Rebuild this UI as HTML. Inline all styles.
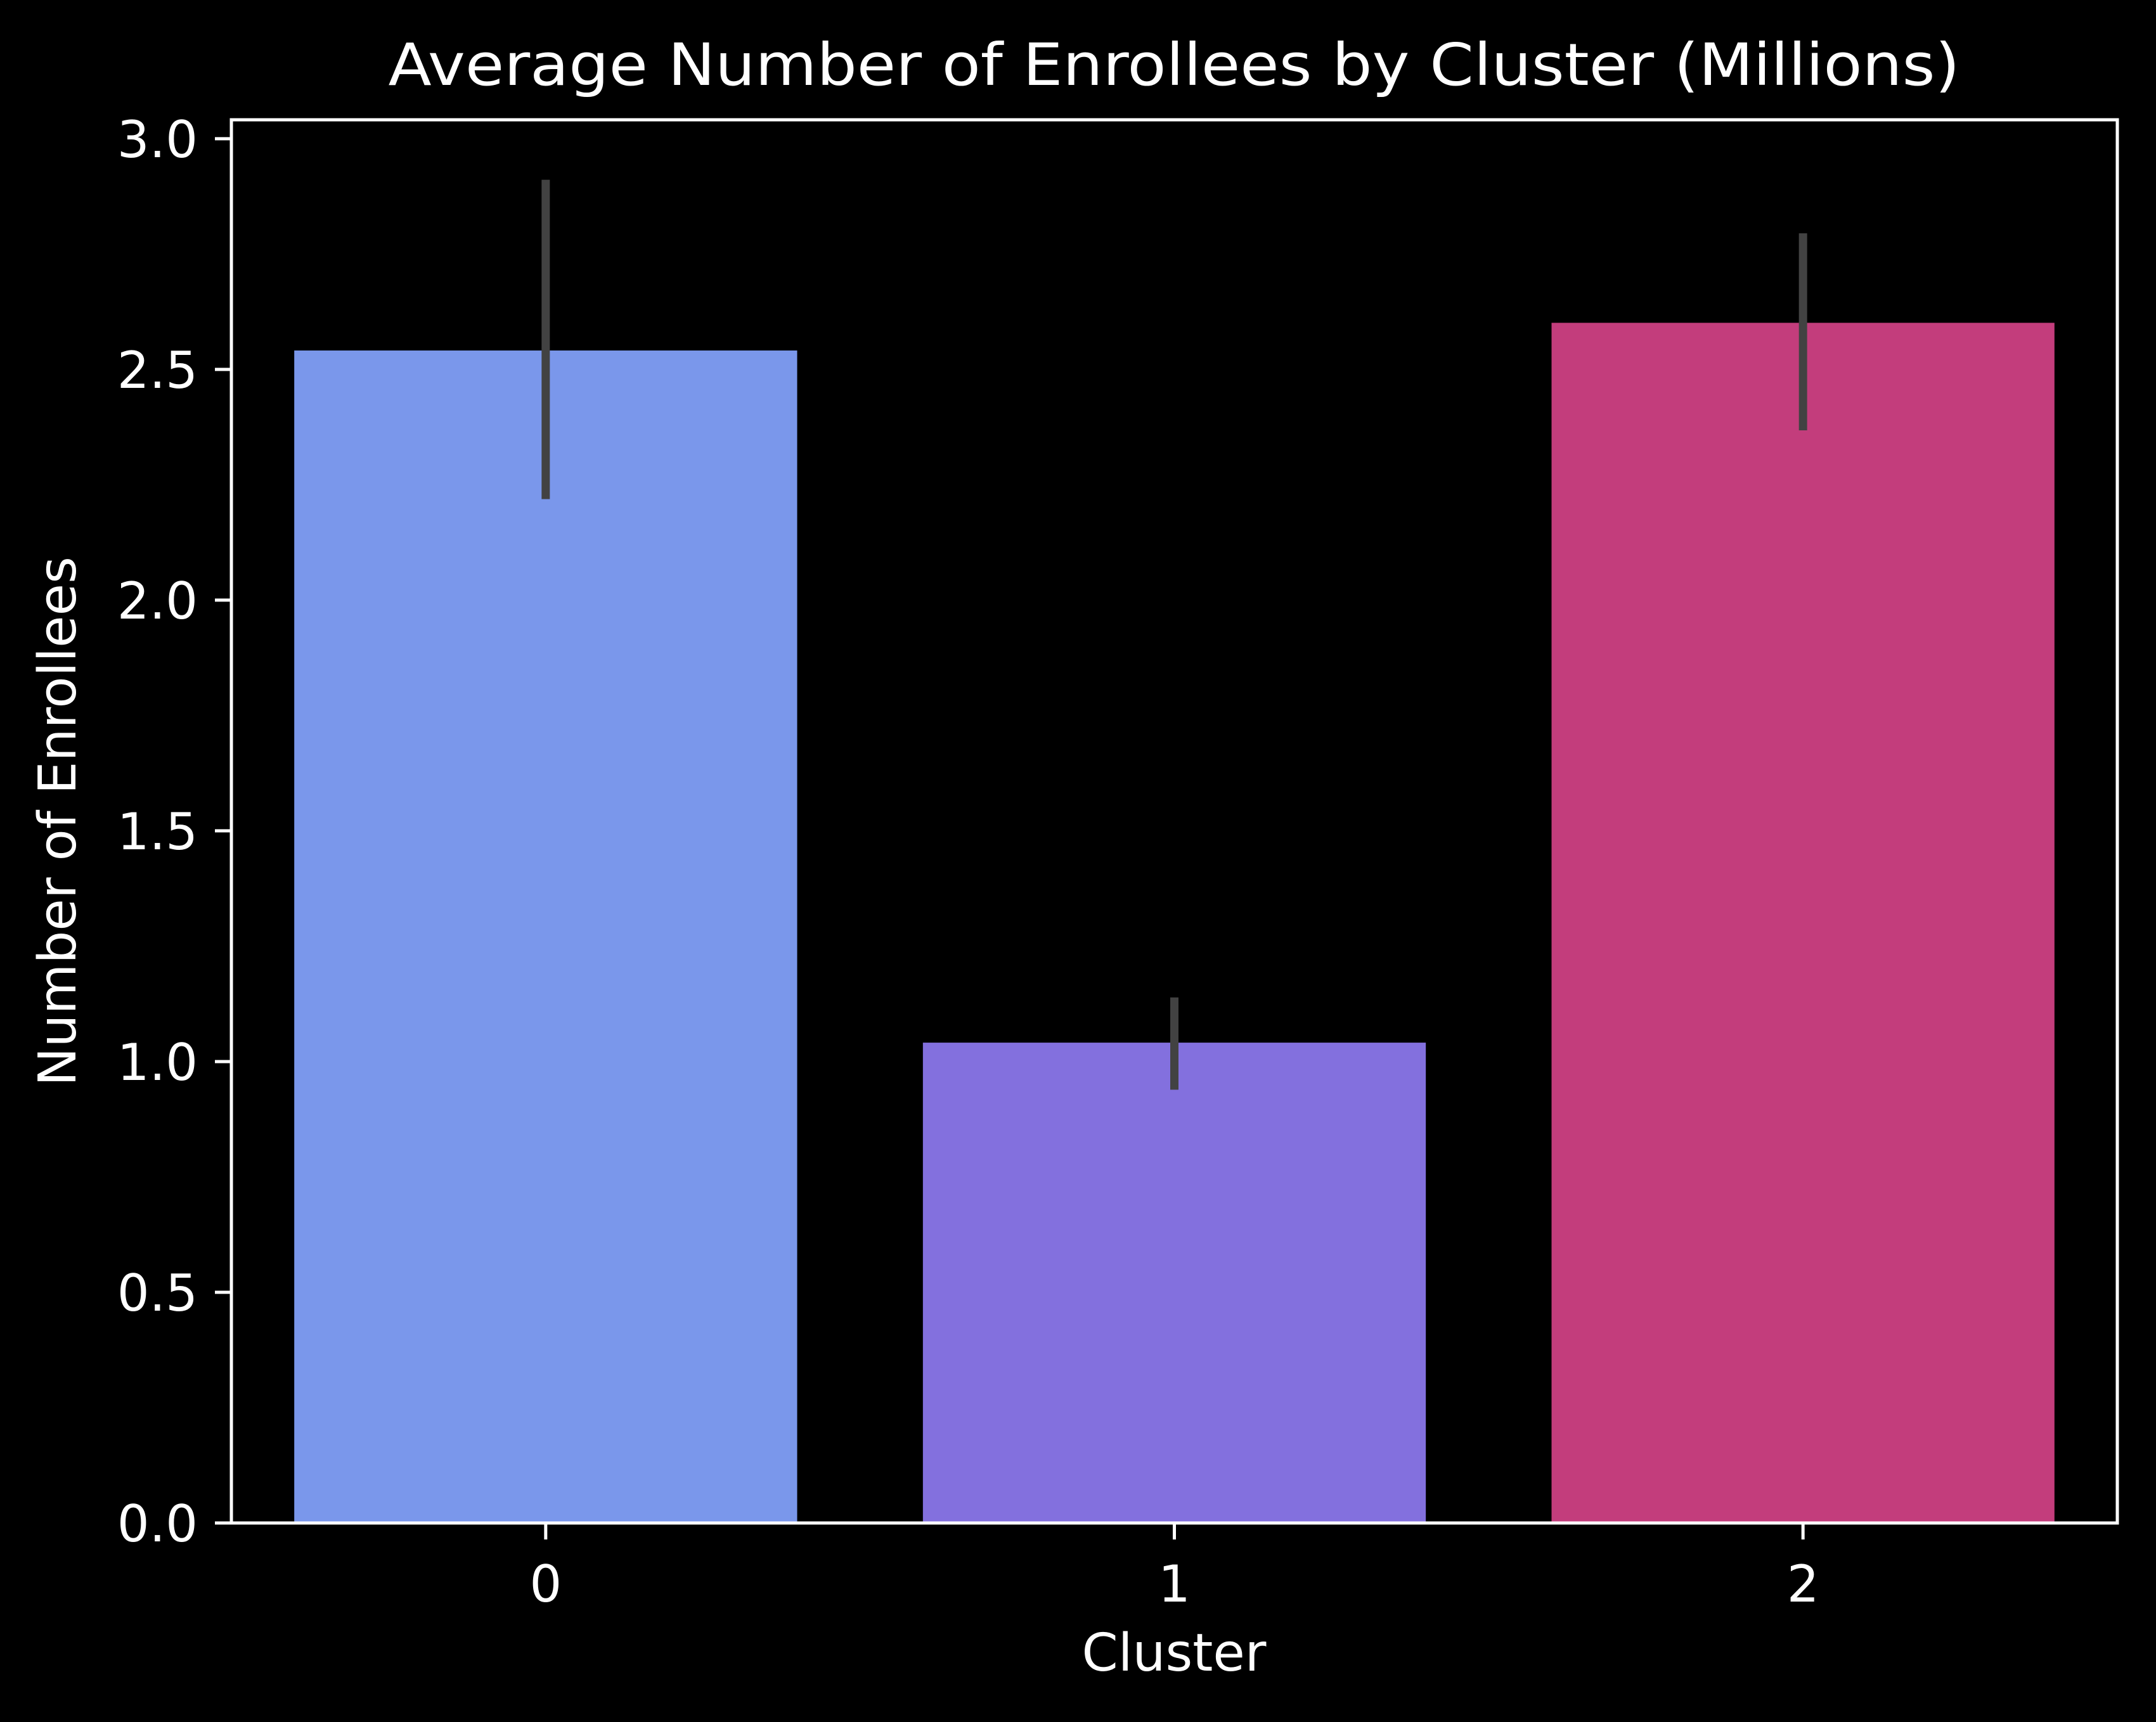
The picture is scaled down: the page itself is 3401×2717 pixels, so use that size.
<!DOCTYPE html>
<html><head><meta charset="utf-8"><style>
html,body{margin:0;padding:0;background:#000;}
svg{display:block;}
text{font-family:"DejaVu Sans","Liberation Sans",sans-serif;fill:#fff;}
</style></head><body>
<svg id="chart" width="3401" height="2717" viewBox="0 0 3401 2717" xmlns="http://www.w3.org/2000/svg">
<rect x="0" y="0" width="3401" height="2717" fill="#000"/>
<text x="1852" y="134" font-size="92" text-anchor="middle" textLength="2479" lengthAdjust="spacingAndGlyphs">Average Number of Enrollees by Cluster (Millions)</text>
<g id="plot"></g>
<text x="1852" y="2636" font-size="82" text-anchor="middle">Cluster</text>
<text x="0" y="0" font-size="82" text-anchor="middle" transform="translate(119,1296) rotate(-90)">Number of Enrollees</text>
</svg>
<script>
const categories = ["0", "1", "2"];
const values = [2.541, 1.041, 2.601];
const errLow = [2.219, 0.939, 2.368];
const errHigh = [2.911, 1.139, 2.795];
const yTicks = [0, 0.5, 1.0, 1.5, 2.0, 2.5, 3.0];
const yTickLabels = ["0.0", "0.5", "1.0", "1.5", "2.0", "2.5", "3.0"];
const colors = ["#7a97eb", "#8370de", "#c33d7c"];

const L = 365, R = 3340, T = 189, B = 2403;
const yMax = 3.041;
const xMin = -0.5, xMax = categories.length - 0.5;
function sx(v){ return L + (v - xMin) / (xMax - xMin) * (R - L); }
function sy(v){ return B - v / yMax * (B - T); }
const NS = "http://www.w3.org/2000/svg";
const g = document.getElementById('plot');
function mk(tag, attrs){ const e = document.createElementNS(NS, tag); for (const k in attrs) e.setAttribute(k, attrs[k]); g.appendChild(e); return e; }

const bw = 0.8;
categories.forEach((c, i) => {
  const x0 = sx(i - bw/2), x1 = sx(i + bw/2);
  const r = mk('rect', {x: x0, y: sy(values[i]), width: x1 - x0, height: sy(0) - sy(values[i]), fill: colors[i]});
  
  
});
categories.forEach((c, i) => {
  const l = mk('line', {x1: sx(i), x2: sx(i), y1: sy(errLow[i]), y2: sy(errHigh[i]), stroke: '#424242', 'stroke-width': 13});
  
  
});
const frame = mk('rect', {x: L, y: T, width: R - L, height: B - T, fill: 'none', stroke: '#fff', 'stroke-width': 5});



yTicks.forEach((v, i) => {
  const y = sy(v);
  const t = mk('line', {x1: L - 26, x2: L, y1: y, y2: y, stroke: '#fff', 'stroke-width': 5});
  
  
  const tx = mk('text', {x: 312, y: y + 29, 'font-size': 80, 'text-anchor': 'end'});
  tx.textContent = yTickLabels[i];
  
  
});
categories.forEach((c, i) => {
  const x = sx(i);
  const t = mk('line', {x1: x, x2: x, y1: B, y2: B + 26, stroke: '#fff', 'stroke-width': 5});
  
  
  const tx = mk('text', {x: x, y: 2527, 'font-size': 80, 'text-anchor': 'middle'});
  tx.textContent = c;
  
  
});
</script>
</body></html>
